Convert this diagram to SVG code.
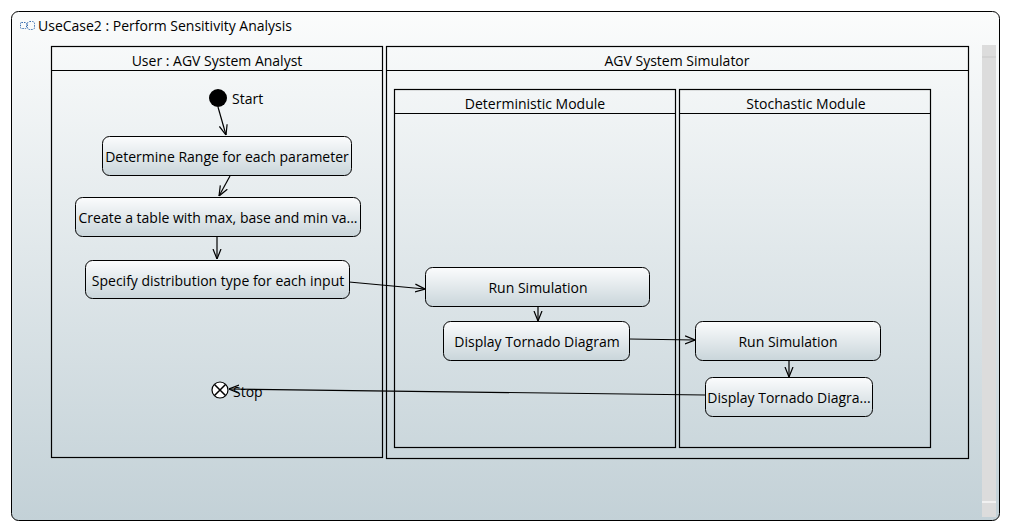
<svg xmlns="http://www.w3.org/2000/svg" width="1010" height="532" viewBox="0 0 1010 532">
<defs>
<linearGradient id="bg" x1="0" y1="0" x2="0" y2="1">
<stop offset="0" stop-color="#fbfcfc"/>
<stop offset="1" stop-color="#c3d1d7"/>
</linearGradient>
<linearGradient id="nd" x1="0" y1="0" x2="0" y2="1">
<stop offset="0" stop-color="#fbfcfd"/>
<stop offset="1" stop-color="#c9d5da"/>
</linearGradient>
<marker id="arr" viewBox="0 0 10 10" refX="10" refY="5" markerWidth="10" markerHeight="10" markerUnits="userSpaceOnUse" orient="auto">
<path d="M0,1 L10,5 L0,9" fill="none" stroke="#000" stroke-width="1.2"/>
</marker>
<style>
text{font-family:"Open Sans","DejaVu Sans",sans-serif;font-size:14px;fill:#000}
.c{text-anchor:middle}
.box{fill:url(#nd);stroke:#000;stroke-width:1}
.lane{fill:none;stroke:#000;stroke-width:1.2}
.edge{fill:none;stroke:#000;stroke-width:1.2;marker-end:url(#arr)}
</style>
</defs>
<rect x="0" y="0" width="1010" height="532" fill="#ffffff"/>
<g id="frame">
<rect x="11.5" y="11.5" width="988" height="509" rx="7" fill="url(#bg)" stroke="#000" stroke-width="1"/>
<rect x="982" y="45" width="14" height="472" fill="#dcdcdc"/>
<line x1="982" y1="57" x2="996" y2="57" stroke="#c8c8c8"/>
<line x1="982" y1="502" x2="996" y2="502" stroke="#ffffff" stroke-width="1.2"/>
<g fill="none" stroke="#3a6fb0" stroke-width="1" stroke-dasharray="1.5,1">
<rect x="20.5" y="22.5" width="6" height="6" rx="1"/>
<rect x="27.5" y="21.5" width="7" height="8" rx="2"/>
</g>
<text x="38" y="31">UseCase2 : Perform Sensitivity Analysis</text>
</g>
<g id="lane-user">
<rect class="lane" x="51.5" y="46.5" width="331" height="411"/>
<line class="lane" x1="51.5" y1="70.5" x2="382.5" y2="70.5"/>
<text class="c" x="217" y="66">User : AGV System Analyst</text>
</g>
<g id="lane-simulator">
<rect class="lane" x="386.5" y="46.5" width="582" height="412"/>
<line class="lane" x1="386.5" y1="70.5" x2="968.5" y2="70.5"/>
<text class="c" x="677" y="66">AGV System Simulator</text>
</g>
<g id="lane-deterministic">
<rect class="lane" x="394.5" y="89.5" width="281" height="358"/>
<line class="lane" x1="394.5" y1="113.5" x2="675.5" y2="113.5"/>
<text class="c" x="535" y="109">Deterministic Module</text>
</g>
<g id="lane-stochastic">
<rect class="lane" x="679.5" y="89.5" width="251" height="358"/>
<line class="lane" x1="679.5" y1="113.5" x2="930.5" y2="113.5"/>
<text class="c" x="806" y="109">Stochastic Module</text>
</g>
<g id="connectors">
<path class="edge" d="M218,107 L226,135"/>
<path class="edge" d="M230,176 L219,196"/>
<path class="edge" d="M217,237 L217,259"/>
<path class="edge" d="M349,282 L425,289"/>
<path class="edge" d="M538,306 L538,321"/>
<path class="edge" d="M629,339 L695,340"/>
<path class="edge" d="M789,360 L789,377"/>
<path class="edge" d="M705,395 L229,389"/>
</g>
<g id="start">
<circle cx="218" cy="98" r="9" fill="#000"/>
<text x="232" y="104">Start</text>
</g>
<g id="determine-range">
<rect class="box" x="102.5" y="136.5" width="249" height="39" rx="7"/>
<text class="c" x="227" y="162">Determine Range for each parameter</text>
</g>
<g id="create-table">
<rect class="box" x="75.5" y="197.5" width="285" height="39" rx="7"/>
<text class="c" x="218" y="223">Create a table with max, base and min va...</text>
</g>
<g id="specify-distribution">
<rect class="box" x="85.5" y="260.5" width="264" height="38" rx="7"/>
<text class="c" x="218" y="286">Specify distribution type for each input</text>
</g>
<g id="run-sim-det">
<rect class="box" x="425.5" y="267.5" width="224" height="39" rx="7"/>
<text class="c" x="538" y="293">Run Simulation</text>
</g>
<g id="display-det">
<rect class="box" x="443.5" y="321.5" width="186" height="39" rx="7"/>
<text class="c" x="537" y="347">Display Tornado Diagram</text>
</g>
<g id="run-sim-sto">
<rect class="box" x="695.5" y="321.5" width="185" height="39" rx="7"/>
<text class="c" x="788" y="347">Run Simulation</text>
</g>
<g id="display-sto">
<rect class="box" x="705.5" y="377.5" width="167" height="39" rx="7"/>
<text class="c" x="789" y="403">Display Tornado Diagra...</text>
</g>
<g id="stop">
<circle cx="220" cy="390" r="8" fill="#fff" stroke="#000" stroke-width="1.2"/>
<path d="M214.5,384.5 L225.5,395.5 M225.5,384.5 L214.5,395.5" stroke="#000" stroke-width="1.5"/>
<text x="233" y="397">Stop</text>
</g>
</svg>
